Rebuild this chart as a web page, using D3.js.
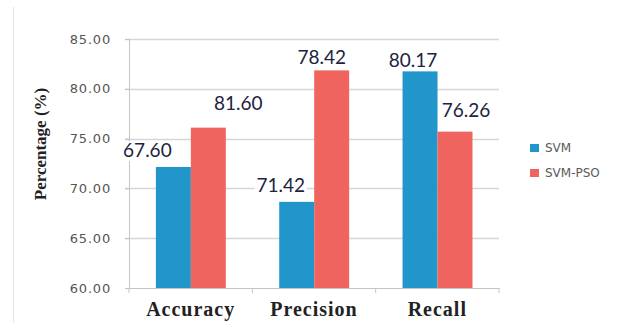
<!DOCTYPE html>
<html lang="en">
<head>
    <meta charset="UTF-8">
    <title>SVM vs SVM-PSO</title>
    <script src="https://cdn.jsdelivr.net/npm/d3@7"></script>
    <style>
        body { margin: 0; background: #fff; }
        svg { display: block; }
    </style>
</head>
<body>
    <div id="chart-space"></div>

    <script>
        // data
        var categories = ["Accuracy", "Precision", "Recall"];
        var series = ["SVM", "SVM-PSO"];
        var svmValues = [72.15, 68.65, 81.85];     // bar heights
        var psoValues = [76.1, 81.85, 75.7];
        var svmLabels = ["67.60", "71.42", "80.17"]; // printed labels (as in source)
        var psoLabels = ["81.60", "78.42", "76.26"];
        var yTicks = [60, 65, 70, 75, 80, 85];

        var colors = {"SVM": "#2196cb", "SVM-PSO": "#f0645f"};

        var width = 629;
        var height = 323;
        var margin = {top: 39, right: 130, bottom: 35, left: 129};
        var chartWidth = width - margin.left - margin.right;
        var chartHeight = height - margin.top - margin.bottom;

        var rows = [];
        categories.forEach(function(c, i) {
            rows.push({cat: c, s: "SVM", v: svmValues[i], label: svmLabels[i]});
            rows.push({cat: c, s: "SVM-PSO", v: psoValues[i], label: psoLabels[i]});
        });

        var svg = d3.select("#chart-space")
            .append("svg")
            .attr("width", width)
            .attr("height", height);

        // faint frame line on the left
        svg.append("line")
            .attr("x1", 13.5).attr("x2", 13.5)
            .attr("y1", 7).attr("y2", height)
            .attr("stroke", "#e3e3e3");

        var g = svg.append("g")
            .attr("transform", "translate(" + margin.left + "," + margin.top + ")");

        var x0 = d3.scaleBand()
            .domain(categories)
            .range([0, chartWidth]);

        var bw = x0.bandwidth();
        var x1 = d3.scaleBand()
            .domain(series)
            .range([bw * 0.218, bw * 0.785]);

        var y = d3.scaleLinear()
            .domain([60, 85])
            .range([chartHeight, 0]);

        // gridlines
        g.selectAll(".grid")
            .data(yTicks.slice(1))
            .join("line")
            .attr("x1", -4)
            .attr("x2", chartWidth)
            .attr("y1", function(d) { return Math.round(y(d)) + 0.5; })
            .attr("y2", function(d) { return Math.round(y(d)) + 0.5; })
            .attr("stroke", "#d6d6d6")
            .attr("stroke-width", 1.5);

        // y axis
        var yAxis = g.append("g")
            .call(d3.axisLeft(y).tickValues(yTicks).tickSize(4).tickFormat(d3.format(".2f")));
        yAxis.select(".domain").attr("stroke", "#c4c4c4");
        yAxis.selectAll(".tick line").attr("stroke", "#c4c4c4");
        yAxis.selectAll(".tick text")
            .attr("x", -18)
            .attr("fill", "#555")
            .style("font-family", "DejaVu Sans")
            .style("font-size", "13px")
            .style("letter-spacing", "0.8px");

        // bars
        g.selectAll(".bar")
            .data(rows)
            .join("rect")
            .attr("class", "bar")
            .attr("x", function(d) { return x0(d.cat) + x1(d.s); })
            .attr("y", function(d) { return y(d.v); })
            .attr("width", x1.bandwidth())
            .attr("height", function(d) { return chartHeight - y(d.v); })
            .attr("fill", function(d) { return colors[d.s]; });

        // x axis
        var xAxis = g.append("g")
            .attr("transform", "translate(0," + chartHeight + ")")
            .call(d3.axisBottom(x0).tickSize(0).tickFormat(""));
        xAxis.select(".domain").attr("stroke", "#c4c4c4");
        xAxis.selectAll(".sep")
            .data(d3.range(categories.length + 1))
            .join("line")
            .attr("x1", function(i) { return i * bw; })
            .attr("x2", function(i) { return i * bw; })
            .attr("y1", 0).attr("y2", 5)
            .attr("stroke", "#c4c4c4");

        g.selectAll(".cat")
            .data(categories)
            .join("text")
            .attr("x", function(d) { return x0(d) + bw / 2; })
            .attr("y", chartHeight + 28)
            .attr("text-anchor", "middle")
            .attr("fill", "#222")
            .style("font-family", "Liberation Serif")
            .style("font-weight", "bold")
            .style("font-size", "20px")
            .style("letter-spacing", "1px")
            .text(function(d) { return d; });

        // value labels, nudged the way the source places them
        var nudge = [[-26, -10], [30, -18], [-16, -10], [-10, -6], [-7, -3], [11, -15]];
        var labels = g.selectAll(".lab")
            .data(rows)
            .join("g")
            .attr("transform", function(d, i) {
                var cx = x0(d.cat) + x1(d.s) + x1.bandwidth() / 2 + nudge[i][0];
                return "translate(" + cx + "," + (y(d.v) + nudge[i][1]) + ")";
            });
        labels.append("rect")
            .attr("x", -26).attr("y", -16)
            .attr("width", 52).attr("height", 20)
            .attr("fill", "#fff");
        labels.append("text")
            .attr("text-anchor", "middle")
            .attr("fill", "#1c2340")
            .style("font-family", "Lato")
            .style("font-size", "19px")
            .text(function(d) { return d.label; });

        // y title
        svg.append("text")
            .attr("transform", "translate(46," + (margin.top + 105) + ") rotate(-90)")
            .attr("text-anchor", "middle")
            .attr("fill", "#222")
            .style("font-family", "Liberation Serif")
            .style("font-weight", "bold")
            .style("font-size", "17px")
            .text("Percentage (%)");

        // legend
        var legend = svg.append("g")
            .attr("transform", "translate(530,144)");
        var li = legend.selectAll("g")
            .data(series)
            .join("g")
            .attr("transform", function(d, i) { return "translate(0," + (i * 25) + ")"; });
        li.append("rect")
            .attr("width", 9).attr("height", 8)
            .attr("fill", function(d) { return colors[d]; });
        li.append("text")
            .attr("x", 15).attr("y", 8)
            .attr("fill", "#5a5a5a")
            .style("font-family", "DejaVu Sans")
            .style("font-size", "12px")
            .text(function(d) { return d; });
    </script>
</body>
</html>
